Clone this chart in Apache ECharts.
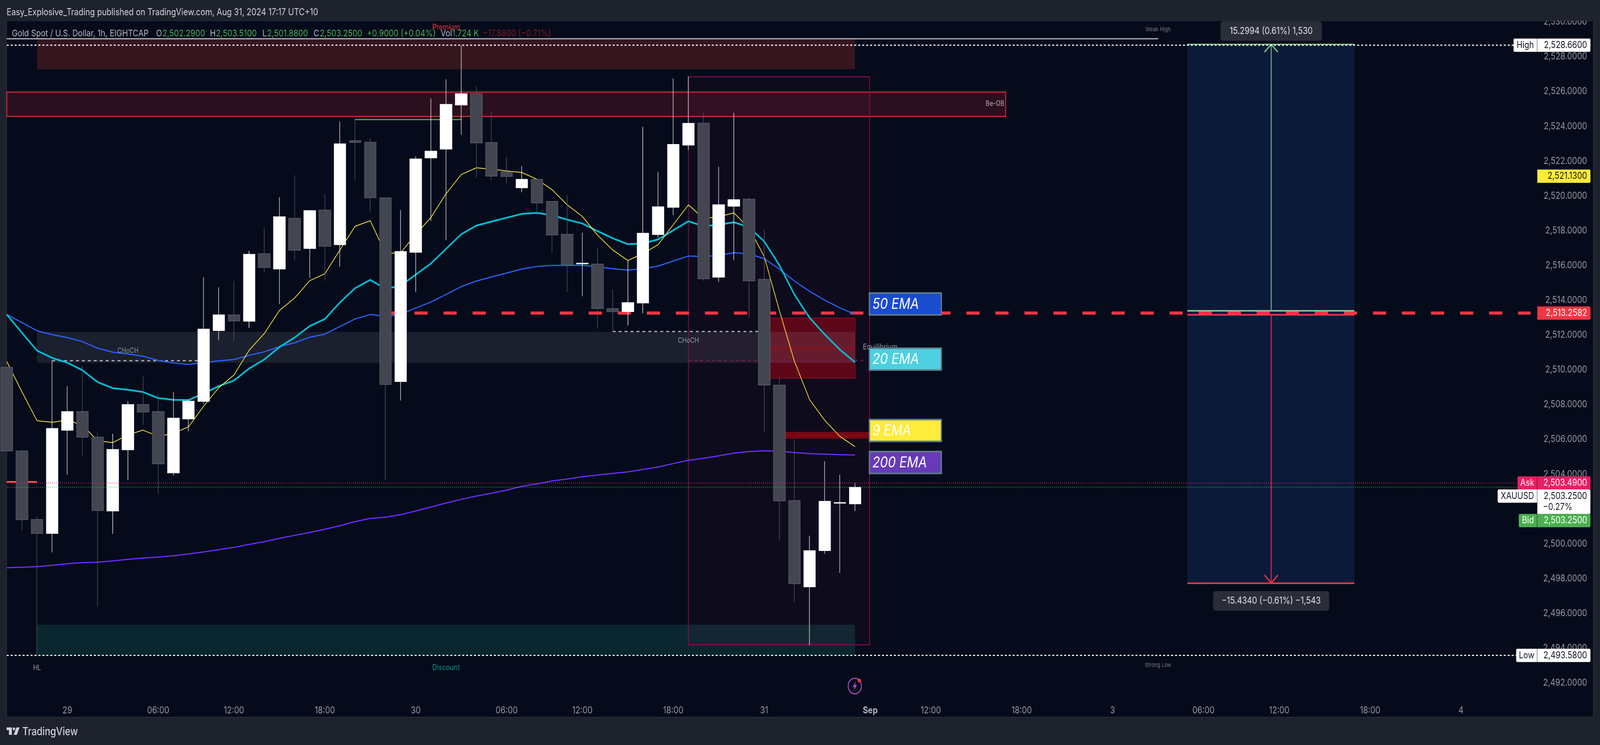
<!DOCTYPE html>
<html>
<head>
<meta charset="utf-8">
<title>XAUUSD 1h</title>
<style>html,body{margin:0;padding:0;background:#1e222d;width:100%;height:100%;overflow:hidden}#main{width:4848px;height:1908px;transform-origin:0 0}</style>
<script src="https://cdn.jsdelivr.net/npm/echarts@6/dist/echarts.min.js"></script>
</head>
<body>
<div id="main"></div>
<script>
// candles
var opens  = [2510.14,2505.33,2501.40,2500.59,2506.52,2507.60,2506.13,2501.88,2505.40,2508.00,2507.60,2504.07,2507.17,2508.18,2512.25,2513.16,2512.79,2516.67,2515.79,2518.71,2516.97,2519.18,2517.19,2523.17,2523.08,2519.89,2509.32,2516.75,2522.18,2522.68,2525.22,2525.87,2523.07,2521.38,2520.46,2520.95,2519.68,2517.79,2516.09,2516.08,2513.52,2513.34,2513.84,2517.77,2519.34,2522.91,2524.18,2515.32,2519.40,2519.81,2515.20,2509.12,2502.48,2497.52,2499.60,2502.33,2502.29];
var closes = [2505.33,2501.38,2500.59,2506.63,2507.60,2506.12,2501.90,2505.42,2508.00,2507.57,2504.59,2507.22,2508.20,2512.34,2513.16,2512.80,2516.64,2515.88,2518.80,2516.87,2519.15,2517.10,2522.99,2523.07,2519.89,2509.15,2516.80,2522.12,2522.57,2525.26,2525.87,2523.04,2521.13,2521.11,2520.95,2519.59,2517.75,2516.04,2516.13,2513.52,2513.34,2513.86,2517.85,2519.37,2522.96,2524.17,2515.23,2519.49,2519.78,2515.11,2509.12,2502.46,2497.70,2499.60,2502.44,2502.37,2503.25];
var highs  = [2510.14,2505.42,2501.56,2510.52,2509.06,2510.22,2506.41,2506.32,2508.20,2509.61,2508.60,2508.72,2508.28,2515.33,2514.74,2515.11,2516.84,2518.17,2519.92,2521.18,2519.15,2520.10,2524.27,2524.43,2523.33,2519.89,2519.18,2522.28,2525.60,2526.70,2528.64,2526.31,2524.83,2522.23,2521.71,2520.95,2519.68,2520.04,2517.88,2517.03,2514.60,2516.28,2523.97,2521.38,2526.75,2526.86,2524.78,2521.67,2524.77,2519.91,2518.10,2509.51,2506.02,2500.46,2504.75,2503.97,2503.51];
var lows   = [2505.33,2500.75,2493.60,2499.50,2503.98,2505.03,2496.39,2500.57,2503.65,2506.83,2502.87,2503.92,2506.46,2508.05,2511.70,2511.64,2512.40,2515.59,2513.79,2516.30,2515.28,2515.11,2515.93,2520.88,2519.04,2503.65,2508.23,2514.46,2518.55,2517.44,2523.51,2521.03,2520.88,2520.72,2520.20,2518.89,2516.75,2514.49,2514.22,2512.35,2512.19,2512.54,2513.25,2517.60,2518.89,2522.63,2515.11,2515.05,2516.30,2512.98,2506.44,2500.19,2496.66,2494.17,2499.42,2498.32,2501.88];

var ema9   = [2510.48,2508.74,2507.07,2506.98,2507.11,2506.81,2505.92,2505.81,2506.26,2506.53,2506.17,2506.35,2506.72,2507.91,2508.97,2509.70,2511.12,2512.08,2513.41,2514.12,2515.12,2515.52,2516.90,2518.25,2518.57,2516.69,2516.72,2517.79,2518.75,2520.12,2521.22,2521.61,2521.53,2521.43,2521.34,2520.95,2520.35,2519.48,2518.81,2517.74,2516.89,2516.28,2516.68,2517.19,2518.34,2519.48,2518.70,2518.80,2519.02,2518.15,2516.52,2513.41,2510.48,2508.28,2507.09,2506.17,2505.58];
var ema20  = [2513.18,2512.13,2511.10,2510.68,2510.41,2509.97,2509.29,2508.94,2508.85,2508.72,2508.37,2508.27,2508.26,2508.64,2509.06,2509.38,2510.07,2510.59,2511.30,2511.85,2512.51,2512.92,2513.87,2514.69,2515.17,2514.65,2514.83,2515.47,2516.11,2516.95,2517.79,2518.29,2518.52,2518.74,2518.96,2519.02,2518.89,2518.63,2518.41,2517.97,2517.56,2517.22,2517.26,2517.49,2518.02,2518.54,2518.25,2518.34,2518.48,2518.20,2517.38,2516.02,2514.32,2512.99,2512.03,2511.16,2510.43];
var ema50  = [2513.18,2512.72,2512.24,2512.02,2511.85,2511.62,2511.24,2511.01,2510.91,2510.78,2510.54,2510.39,2510.31,2510.41,2510.51,2510.59,2510.83,2511.03,2511.33,2511.55,2511.87,2512.05,2512.49,2512.92,2513.18,2513.06,2513.18,2513.55,2513.89,2514.33,2514.78,2515.10,2515.33,2515.56,2515.79,2515.94,2516.00,2516.00,2516.01,2515.92,2515.81,2515.73,2515.81,2515.96,2516.25,2516.54,2516.51,2516.57,2516.73,2516.66,2516.39,2515.79,2515.10,2514.51,2514.00,2513.56,2513.18];
var ema200 = [2498.62,2498.65,2498.68,2498.76,2498.85,2498.91,2498.94,2499.01,2499.10,2499.18,2499.23,2499.31,2499.41,2499.53,2499.66,2499.79,2499.96,2500.12,2500.31,2500.48,2500.65,2500.83,2501.04,2501.27,2501.46,2501.52,2501.67,2501.88,2502.11,2502.34,2502.55,2502.74,2502.90,2503.08,2503.30,2503.44,2503.61,2503.72,2503.85,2503.95,2504.04,2504.13,2504.27,2504.41,2504.61,2504.80,2504.91,2505.05,2505.21,2505.30,2505.34,2505.32,2505.24,2505.18,2505.15,2505.12,2505.10];

var timeTickBars = [4,10,15,21,27,33,38,44,50,57,61,67,73,79,84,90,96];
var timeTickText = ['29','06:00','12:00','18:00','30','06:00','12:00','18:00','31','Sep','12:00','18:00','3','06:00','12:00','18:00','4'];

var highPrice = 2528.66, lowPrice = 2493.58, askPrice = 2503.49, bidPrice = 2503.25, levelPrice = 2513.2582;

var noteText  = ['Premium','Discount','HL','CHoCH','CHoCH','Equilibrium','Be-OB','Weak High','Strong Low'];
var noteBar   = [29,29,2,8,45,57.66,65.24,76,76];
var notePrice = [2529.69,2492.87,2492.87,2511.08,2511.66,2511.3,2525.29,2529.57,2493.01];

var emaBoxText  = ['50 EMA','20 EMA','9 EMA','200 EMA'];
var emaBoxPrice = [2513.78,2510.61,2506.51,2504.67];

var tagSide  = ['High','','','Ask','XAUUSD','Bid','Low'];
var tagValue = ['2,528.6600','2,521.1300','2,513.2582','2,503.4900','2,503.2500','2,503.2500','2,493.5800'];
var tagPrice = [2528.66,2521.13,2513.2582,2503.49,2502.74,2501.33,2493.58];

var upperMeasure = '15.2994 (0.61%) 1,530';
var lowerMeasure = '\u221215.4340 (\u22120.61%) \u22121,543';

var BARS = 105, UI = 'Inter, Roboto, sans-serif';

var barData = opens.map(function (o, i) { return [o, closes[i], lows[i], highs[i]]; });
var axisNames = [];
for (var b = 0; b < BARS; b++) axisNames.push('');
timeTickBars.forEach(function (t, i) { axisNames[t] = timeTickText[i]; });

function box(x0, x1, top, bot, fill, stroke, sw, z) {
	return {
		type: 'custom', xAxisIndex: 1, yAxisIndex: 0, silent: true, z: z || 1,
		data: [[x0, top, x1, bot]],
		renderItem: function (p, api) {
			var a = api.coord([api.value(0), api.value(1)]), c = api.coord([api.value(2), api.value(3)]);
			return { type: 'rect', shape: { x: a[0], y: a[1], width: c[0] - a[0], height: c[1] - a[1] },
				style: { fill: fill, stroke: stroke || null, lineWidth: sw || 0 } };
		}
	};
}

function seg(pts, color, width, dash, z) {
	return {
		type: 'line', xAxisIndex: 1, yAxisIndex: 0, silent: true, symbol: 'none', z: z || 2,
		data: pts,
		lineStyle: { color: color, width: width, type: dash || 'solid', cap: 'butt' }
	};
}

function ema(values, color, width) {
	return {
		type: 'line', xAxisIndex: 0, yAxisIndex: 0, silent: true, symbol: 'none', z: 2,
		data: values, lineStyle: { color: color, width: width }
	};
}

function note(i, color, size) {
	return {
		type: 'custom', xAxisIndex: 1, yAxisIndex: 0, silent: true, z: 5,
		data: [[noteBar[i], notePrice[i]]],
		renderItem: function (p, api) {
			var a = api.coord([api.value(0), api.value(1)]);
			return { type: 'text', style: { x: a[0], y: a[1], text: noteText[i], fill: color,
				font: size + 'px ' + UI, align: 'center', verticalAlign: 'middle' } };
		}
	};
}

function emaBox(i, fill) {
	return {
		type: 'custom', xAxisIndex: 1, yAxisIndex: 0, silent: true, z: 6,
		data: [[59.32, emaBoxPrice[i]]],
		renderItem: function (p, api) {
			var a = api.coord([api.value(0), api.value(1)]);
			return { type: 'group', children: [
				{ type: 'rect', shape: { x: a[0] - 109, y: a[1] - 28, width: 218, height: 56 },
					style: { fill: fill, stroke: '#607d8b', lineWidth: 4 } },
				{ type: 'text', style: { x: a[0] - 100, y: a[1] + 1, text: emaBoxText[i], fill: '#fff',
					font: 'italic 38px ' + UI, align: 'left', verticalAlign: 'middle' } }
			] };
		}
	};
}

function pill(price, w, text) {
	return {
		type: 'custom', xAxisIndex: 1, yAxisIndex: 0, silent: true, z: 6,
		data: [[83.47, price]],
		renderItem: function (p, api) {
			var a = api.coord([api.value(0), api.value(1)]);
			return { type: 'group', children: [
				{ type: 'rect', shape: { x: a[0] - w / 2, y: a[1] - 25, width: w, height: 50, r: 8 }, style: { fill: '#2a2e39' } },
				{ type: 'text', style: { x: a[0], y: a[1], text: text, fill: '#e0e3eb', font: '24px ' + UI,
					align: 'center', verticalAlign: 'middle' } }
			] };
		}
	};
}

// price tags on the right, the axis has no room for them as real labels
var tagLook = [
	{ fill: '#fff', fg: '#131722', side: 4586 },
	{ fill: '#ffeb3b', fg: '#131722', side: 0 },
	{ fill: '#f23645', fg: '#fff', side: 0 },
	{ fill: '#e91e63', fg: '#fff', side: 4598 },
	{ fill: '#fff', fg: '#131722', side: 4538 },
	{ fill: '#4caf50', fg: '#fff', side: 4602 },
	{ fill: '#fff', fg: '#131722', side: 4594 }
];
function tag(i) {
	var look = tagLook[i];
	return {
		type: 'custom', xAxisIndex: 1, yAxisIndex: 0, silent: true, z: 8 + i,
		data: [[0, tagPrice[i]]],
		renderItem: function (p, api) {
			var y = api.coord([0, api.value(1)])[1], kids = [];
			var bodyH = i === 4 ? 63 : 34, top = y - 17;
			kids.push({ type: 'rect', shape: { x: 4658, y: top, width: 161, height: bodyH, r: [0, 4, 4, 0] }, style: { fill: look.fill } });
			if (look.side) {
				kids.push({ type: 'rect', shape: { x: look.side, y: top, width: 4657 - look.side, height: 34, r: [4, 0, 0, 4] }, style: { fill: look.fill } });
				kids.push({ type: 'text', style: { x: (look.side + 4657) / 2, y: y, text: tagSide[i], fill: look.fg,
					font: '24px ' + UI, align: 'center', verticalAlign: 'middle' } });
			}
			kids.push({ type: 'text', style: { x: 4809, y: y, text: tagValue[i], fill: look.fg,
				font: '24px ' + UI, align: 'right', verticalAlign: 'middle' } });
			if (i === 4) {
				kids.push({ type: 'text', style: { x: 4675, y: y + 28, text: '\u22120.27%', fill: look.fg,
					font: '24px ' + UI, align: 'left', verticalAlign: 'middle' } });
			}
			return { type: 'group', children: kids };
		}
	};
}

var series = [
	box(2, 56, 2495.34, lowPrice, '#0a2730'),
	box(2, 56, 2529.03, 2527.27, '#36161f'),
	box(0, 65.94, 2525.96, 2524.56, '#2a101f', '#c42b3c', 3),
	box(77.93, 88.96, highPrice, 2497.73, '#0c1a3a'),
	box(50, 56, 2512.98, 2509.51, '#570716', '#7f0d1e', 2),
	box(51, 56.96, 2506.43, 2506.03, '#6e0812'),
	box(2, 56, 2512.18, 2510.40, 'rgba(178,181,190,0.13)'),
	box(45, 56.96, 2526.84, 2494.19, 'rgba(233,30,99,0.045)', '#880e4f', 2.5),

	seg([[50, 2511.24], [56, 2511.24]], '#8a1020', 4, null, 1),
	seg([[51, 2506.23], [56.96, 2506.23]], '#830712', 4, null, 1),
	seg([[45, 2510.52], [56.75, 2510.52]], '#7a1a50', 2.5, [9, 9], 1),
	seg([[3, 2510.52], [13, 2510.52]], '#b2b5be', 3, [9, 9], 1),
	seg([[40, 2512.2], [50, 2512.2]], '#b2b5be', 3, [9, 9], 1),
	seg([[23, 2524.38], [30, 2524.38]], '#4caf50', 3, null, 1),
	seg([[0, 2529.03], [76, 2529.03]], '#b2b5be', 3, null, 1),
	seg([[0, 2503.56], [2, 2503.56]], '#ff5252', 4, null, 1),
	seg([[25, levelPrice], [100.6, levelPrice]], '#f23645', 8, [40, 48], 2),

	seg([[77.93, 2528.71], [88.96, 2528.71]], '#81c784', 3, null, 3),
	seg([[77.93, 2513.39], [88.96, 2513.39]], '#81c784', 4, null, 3),
	seg([[83.47, 2528.71], [83.47, 2513.39]], '#76b186', 3, null, 3),
	seg([[83.03, 2528.26], [83.47, 2528.71], [83.91, 2528.26]], '#81c784', 3.5, null, 3),
	seg([[77.93, 2513.16], [88.96, 2513.16]], '#f23645', 4, null, 3),
	seg([[83.47, 2513.16], [83.47, 2497.73]], '#d9304a', 3, null, 3),
	seg([[77.93, 2497.73], [88.96, 2497.73]], '#f23645', 4, null, 3),
	seg([[83.03, 2498.2], [83.47, 2497.73], [83.91, 2498.2]], '#f23645', 3.5, null, 3),

	ema(ema200, '#6f2cff', 3),
	ema(ema50, '#2962ff', 3),
	ema(ema20, '#00bcd4', 4.5),
	ema(ema9, '#ffeb3b', 2),

	{
		type: 'candlestick', xAxisIndex: 0, yAxisIndex: 0, silent: true, z: 4, barWidth: 36,
		data: barData,
		itemStyle: { color: '#ffffff', color0: '#434651', borderColor: '#ffffff', borderColor0: '#5d606b', borderWidth: 1.5 }
	},

	seg([[0, highPrice], [99.47, highPrice]], '#ffffff', 3, [6, 6], 5),
	seg([[0, lowPrice], [99.64, lowPrice]], '#ffffff', 3, [6, 6], 5),
	seg([[0, askPrice], [99.7, askPrice]], '#e91e63', 2, [2, 4], 5),
	seg([[0, bidPrice], [99.8, bidPrice]], '#4caf50', 2, [2, 4], 5),

	note(0, '#f23645', 20), note(1, '#089981', 20), note(2, '#9598a1', 18),
	note(3, '#9598a1', 18), note(4, '#9598a1', 18), note(5, '#9598a1', 20),
	note(6, '#b2b5be', 18), note(7, '#787b86', 15), note(8, '#787b86', 15),

	emaBox(0, '#1a4ccf'), emaBox(1, '#4dd0e1'), emaBox(2, '#ffeb3b'), emaBox(3, '#673ab7'),
	pill(2529.47, 307, upperMeasure), pill(2496.71, 352, lowerMeasure),
	tag(0), tag(1), tag(2), tag(3), tag(4), tag(5), tag(6)
];

function txt(x, y, s, color, size, weight) {
	return { type: 'text', z: 60, silent: true, x: x, y: y,
		style: { text: s, fill: color, font: (weight || 400) + ' ' + size + 'px ' + UI, verticalAlign: 'middle' } };
}

var GRAY = '#b2b5be', GREEN = '#4caf50', LEG = 23.5;
var graphics = [
	// panel behind everything, then the strip that cuts off the top tick label
	{ type: 'rect', z: -10, silent: true, shape: { x: 20, y: 53, width: 4808, height: 1784 }, style: { fill: '#050b1a', stroke: '#2a2e39', lineWidth: 2 } },
	{ type: 'rect', z: 50, silent: true, shape: { x: 0, y: 0, width: 4848, height: 53 }, style: { fill: '#1e222d' } },
	txt(20, 32, 'Easy_Explosive_Trading published on TradingView.com, Aug 31, 2024 17:17 UTC+10', '#d1d4dc', 24),
	txt(36, 86, 'Gold Spot / U.S. Dollar, 1h, EIGHTCAP', GRAY, LEG),
	txt(473, 86, 'O', GRAY, LEG), txt(492, 86, '2,502.2900', GREEN, LEG),
	txt(636, 86, 'H', GRAY, LEG), txt(654, 86, '2,503.5100', GREEN, LEG),
	txt(795, 86, 'L', GRAY, LEG), txt(809, 86, '2,501.8800', GREEN, LEG),
	txt(950, 86, 'C', GRAY, LEG), txt(969, 86, '2,503.2500', GREEN, LEG),
	txt(1112, 86, '+0.9000 (+0.04%)', GREEN, LEG),
	txt(1335, 86, 'Vol', GRAY, LEG), txt(1370, 86, '1.724 K', GREEN, LEG),
	txt(1463, 86, '\u221217.8800 (\u22120.71%)', '#801922', LEG),
	// TradingView mark
	{ type: 'polygon', z: 60, silent: true, shape: { points: [[20, 1863], [36, 1863], [36, 1882], [27, 1882], [27, 1870], [20, 1870]] }, style: { fill: '#d1d4dc' } },
	{ type: 'circle', z: 60, silent: true, shape: { cx: 42.3, cy: 1866.7, r: 3.7 }, style: { fill: '#d1d4dc' } },
	{ type: 'polygon', z: 60, silent: true, shape: { points: [[50, 1863], [59.3, 1863], [50.7, 1882], [41.3, 1882]] }, style: { fill: '#d1d4dc' } },
	txt(68, 1875, 'TradingView', '#d1d4dc', 28, 500),
	// lightning badge under the last bar
	{ type: 'circle', z: 60, silent: true, shape: { cx: 2590, cy: 1757, r: 20 }, style: { fill: 'none', stroke: '#ab47bc', lineWidth: 3 } },
	{ type: 'polygon', z: 60, silent: true, shape: { points: [[2593, 1745], [2583, 1760], [2589, 1760], [2586, 1770], [2597, 1754], [2591, 1754]] }, style: { fill: '#ab47bc' } },
	{ type: 'circle', z: 61, silent: true, shape: { cx: 2603.6, cy: 1743, r: 5 }, style: { fill: '#f23645' } }
];

// the window can come out narrower than the 4848 the chart is laid out for, squeeze it to fit
var el = document.getElementById('main');
if (window.innerWidth < 4848) el.style.transform = 'scaleX(' + window.innerWidth / 4848 + ')';

var chart = echarts.init(el);
chart.setOption({
	animation: false,
	backgroundColor: '#1e222d',
	grid: { left: 20.4, top: 56, width: 4773.6, height: 1782, containLabel: false },
	xAxis: [
		{
			type: 'category', data: axisNames, boundaryGap: false, position: 'bottom',
			axisLine: { show: false }, axisTick: { show: false }, splitLine: { show: false },
			axisLabel: {
				inside: true, margin: 6, interval: 0, hideOverlap: false, color: '#9598a1', fontFamily: UI, fontSize: 24,
				formatter: function (v) { return v === 'Sep' ? '{b|Sep}' : v; },
				rich: { b: { fontWeight: 700, color: '#b2b5be', fontFamily: UI, fontSize: 24 } }
			}
		},
		{ type: 'value', min: 0, max: BARS - 1, show: false, splitLine: { show: false } }
	],
	yAxis: {
		type: 'value', position: 'right', min: 2490, max: 2530, interval: 2,
		axisLine: { show: false }, axisTick: { show: false }, splitLine: { show: false },
		axisLabel: {
			align: 'right', margin: 15, color: '#9598a1', fontFamily: UI, fontSize: 24, hideOverlap: false,
			showMinLabel: false,
			formatter: function (v) { return v.toLocaleString('en-US', { minimumFractionDigits: 4, maximumFractionDigits: 4 }); }
		}
	},
	graphic: { elements: graphics },
	series: series
});
</script>
</body>
</html>
